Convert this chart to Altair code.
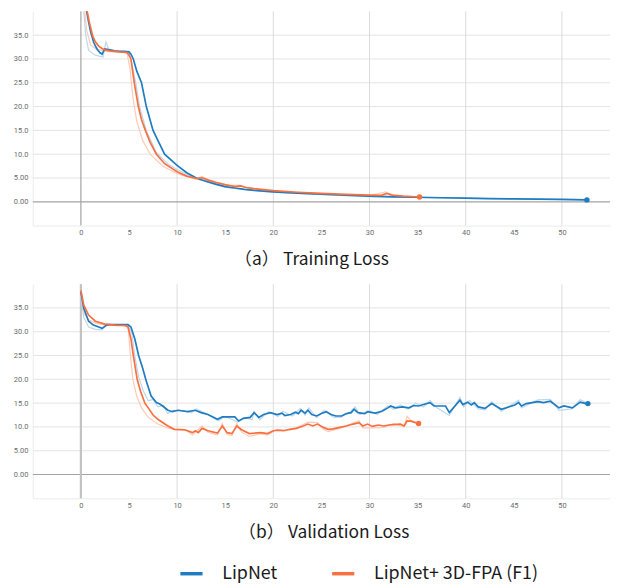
import altair as alt
import pandas as pd

BLUE = "#1f7cc1"
ORANGE = "#f8703f"
LBLUE = "#bcd8ee"
LORANGE = "#fdcab8"

SERIES = ["LipNet", "LipNet+ 3D-FPA (F1)"]

x_ticks = [0, 5, 10, 15, 20, 25, 30, 35, 40, 45, 50]
y_ticks = [0, 5, 10, 15, 20, 25, 30, 35]
x_grid = [10, 20, 30, 40, 50]
y_grid = [5, 10, 15, 20, 25, 30, 35]

# ---- Training loss (smoothed) ----
train_lip_x = [0.3, 0.55, 0.82, 1.0, 1.34, 1.7, 2.0, 2.2, 2.35, 2.5, 3.0, 3.5, 4.0, 4.5, 5.0, 5.2, 5.45, 5.8, 6.3, 6.8, 7.5, 8.1, 8.7, 10.0, 11.0, 12.0, 13.0, 14.0, 15.0, 16.0, 17.0, 18.0, 20.0, 22.5, 25.0, 27.5, 30.0, 32.5, 35.0, 37.5, 40.0, 42.5, 45.0, 47.5, 50.0, 52.6]
train_lip_y = [55, 40.5, 37.6, 35.8, 33.4, 32.0, 31.3, 31.0, 31.6, 32.1, 31.9, 31.7, 31.6, 31.6, 31.5, 31.0, 30.0, 27.5, 25.0, 20.0, 15.0, 12.5, 10.0, 7.66, 6.1, 5.0, 4.3, 3.7, 3.2, 2.9, 2.6, 2.4, 2.1, 1.8, 1.6, 1.4, 1.2, 1.05, 0.95, 0.85, 0.75, 0.68, 0.6, 0.55, 0.5, 0.4]
train_fpa_x = [0.3, 0.6, 0.9, 1.23, 1.5, 1.85, 2.2, 2.5, 3.0, 4.0, 4.7, 4.95, 5.2, 5.55, 5.97, 6.3, 6.7, 7.2, 7.85, 8.7, 10.0, 11.0, 12.0, 12.65, 13.2, 14.0, 15.0, 16.0, 16.6, 17.2, 18.0, 20.0, 22.5, 25.0, 27.5, 30.0, 31.2, 31.8, 32.4, 33.5, 35.2]
train_fpa_y = [55, 40.5, 37.5, 34.8, 33.6, 32.7, 32.2, 31.9, 31.7, 31.5, 31.4, 31.0, 30.0, 25.0, 20.0, 17.3, 15.0, 12.5, 10.0, 8.0, 6.3, 5.4, 4.9, 5.05, 4.6, 4.1, 3.6, 3.2, 3.35, 3.0, 2.75, 2.35, 2.0, 1.75, 1.55, 1.4, 1.35, 1.75, 1.4, 1.2, 1.0]

# ---- Training loss (raw, faint) ----
train_lip_raw_x = [0.3, 0.5, 0.8, 1.5, 2.3, 2.6, 2.9, 3.5, 4.5, 5.0, 5.3, 5.7, 6.1, 6.8, 7.8, 9.0, 10.0, 12.0, 15.0, 20.0, 25.0, 30.0, 35.0, 40.0, 45.0, 50.0, 52.6]
train_lip_raw_y = [40, 35, 31.8, 30.8, 30.4, 33.6, 32.0, 31.7, 31.6, 31.4, 29.0, 25.0, 20.0, 15.0, 10.5, 8.0, 6.8, 4.8, 3.0, 2.0, 1.5, 1.1, 0.9, 0.7, 0.6, 0.45, 0.4]
train_fpa_raw_x = [0.3, 0.6, 1.0, 1.5, 2.5, 4.8, 5.1, 5.4, 5.8, 6.4, 7.2, 8.5, 10.0, 12.0, 12.6, 13.0, 15.0, 16.5, 17.0, 20.0, 25.0, 30.0, 31.7, 32.2, 35.2]
train_fpa_raw_y = [42, 36, 33, 32.2, 31.6, 31.3, 28, 22, 17, 13, 10, 7.5, 5.9, 4.7, 5.3, 4.5, 3.4, 3.5, 3.0, 2.2, 1.6, 1.3, 2.1, 1.3, 1.0]

# ---- Validation loss (smoothed) ----
val_lip_x = [0, 0.3, 0.8, 1.3, 1.85, 2.2, 2.7, 3.0, 4.0, 4.9, 5.2, 5.6, 6.0, 6.4, 6.8, 7.3, 7.85, 8.2, 8.5, 9.05, 9.5, 10.1, 11.1, 11.9, 12.5, 13.2, 14.2, 14.7, 15.5, 16.0, 16.4, 16.9, 17.6, 18.0, 18.5, 19.0, 19.7, 20.4, 20.9, 21.2, 21.8, 22.3, 22.6, 22.9, 23.3, 23.6, 24.0, 24.5, 25.0, 25.5, 26.0, 26.5, 27.1, 27.6, 28.1, 28.4, 28.8, 29.5, 29.8, 30.3, 30.6, 31.3, 31.9, 32.2, 32.7, 33.4, 34.1, 34.6, 35.1, 35.6, 36.3, 36.7, 37.9, 38.3, 39.4, 39.7, 40.2, 40.6, 40.9, 41.3, 42.0, 42.7, 43.7, 45.1, 45.5, 45.8, 46.3, 47.5, 48.1, 48.8, 49.7, 50.2, 51.1, 51.9, 52.5, 52.7]
val_lip_y = [38.3, 34.9, 32.2, 31.4, 31.0, 30.7, 31.4, 31.5, 31.5, 31.5, 31.0, 28.5, 25.0, 22.5, 19.6, 16.5, 15.1, 14.8, 14.4, 13.5, 13.2, 13.5, 13.2, 13.5, 13.0, 12.6, 11.6, 12.1, 12.1, 12.1, 11.25, 11.8, 12.0, 13.0, 12.0, 12.6, 13.0, 12.6, 12.9, 12.4, 12.6, 13.1, 12.8, 13.5, 12.9, 13.5, 12.6, 12.3, 12.8, 13.2, 12.6, 12.3, 12.3, 12.8, 13.0, 13.7, 13.0, 12.8, 13.2, 13.0, 12.9, 13.3, 14.0, 14.4, 14.0, 14.2, 14.0, 14.5, 14.4, 14.7, 15.1, 14.4, 14.4, 13.0, 15.6, 14.7, 15.2, 14.6, 15.1, 14.2, 13.9, 14.9, 13.7, 14.6, 15.1, 14.4, 14.9, 15.3, 15.1, 15.4, 14.0, 14.4, 14.0, 15.2, 14.9, 14.9]
val_fpa_x = [0, 0.3, 0.8, 1.5, 2.5, 3.5, 4.6, 4.9, 5.2, 5.45, 5.85, 6.2, 6.65, 7.0, 7.5, 8.0, 8.8, 9.05, 9.7, 10.8, 11.6, 11.9, 12.2, 12.6, 13.2, 14.2, 14.7, 15.2, 15.7, 16.2, 16.7, 17.5, 18.7, 19.4, 20.0, 20.4, 21.1, 21.7, 22.4, 23.1, 23.6, 24.1, 24.6, 25.2, 25.7, 26.2, 26.9, 27.6, 28.3, 28.9, 29.3, 29.8, 30.3, 30.9, 31.5, 32.0, 32.5, 33.2, 33.6, 33.9, 34.3, 35.1]
val_fpa_y = [38.7, 35.6, 33.5, 32.2, 31.6, 31.4, 31.3, 31.0, 28.5, 25.0, 20.0, 17.5, 15.0, 14.0, 12.5, 11.6, 10.5, 10.2, 9.5, 9.4, 8.8, 9.2, 8.8, 9.7, 9.2, 8.7, 10.2, 8.8, 8.6, 10.2, 9.4, 8.6, 8.8, 8.6, 9.2, 9.3, 9.2, 9.5, 9.7, 10.2, 10.6, 10.2, 10.6, 9.9, 9.5, 9.6, 9.9, 10.2, 10.6, 10.9, 10.2, 10.6, 10.1, 10.4, 10.2, 10.4, 10.5, 10.6, 10.2, 11.25, 11.2, 10.7]

# ---- Validation loss (raw, faint) ----
val_lip_raw_x = [0, 0.3, 0.8, 1.5, 2.2, 2.7, 3.2, 4.9, 5.3, 5.6, 6.0, 6.5, 7.0, 7.5, 8.0, 8.6, 9.0, 9.6, 10.5, 11.5, 12.0, 13.0, 14.3, 15.0, 16.3, 17.0, 17.8, 18.0, 18.6, 19.5, 20.5, 21.0, 22.0, 22.8, 23.3, 23.7, 24.5, 25.3, 26.3, 27.0, 28.0, 28.5, 29.0, 30.0, 30.8, 31.9, 32.5, 33.2, 34.0, 34.8, 35.6, 36.3, 37.0, 38.3, 39.4, 39.8, 40.4, 41.3, 42.0, 42.7, 43.7, 45.5, 45.8, 47.5, 48.8, 49.7, 51.0, 51.9, 52.7]
val_lip_raw_y = [37.5, 33.0, 31.0, 30.5, 30.4, 31.8, 31.4, 31.4, 29.5, 25.0, 20.5, 17.5, 15.5, 15.8, 14.2, 14.5, 12.8, 13.5, 13.4, 13.0, 13.8, 12.8, 11.3, 12.2, 11.0, 12.0, 11.5, 13.3, 11.5, 13.2, 12.2, 13.3, 12.3, 13.9, 12.5, 14.0, 11.9, 13.5, 12.0, 12.0, 13.2, 14.2, 12.6, 13.4, 12.6, 14.4, 13.7, 14.6, 13.7, 15.0, 14.2, 15.6, 14.0, 12.4, 16.2, 14.2, 15.6, 13.8, 13.6, 15.3, 13.3, 15.6, 14.0, 15.7, 15.8, 13.5, 13.8, 15.7, 14.9]
val_fpa_raw_x = [0, 0.3, 0.8, 1.5, 2.5, 4.9, 5.1, 5.4, 5.8, 6.3, 7.0, 8.0, 9.0, 10.0, 11.0, 11.6, 12.6, 13.2, 14.2, 14.7, 15.2, 15.7, 16.2, 16.7, 17.5, 18.7, 19.4, 20.4, 21.7, 23.1, 23.6, 24.6, 25.2, 25.7, 26.9, 28.3, 28.9, 29.3, 30.3, 31.5, 32.5, 33.6, 33.9, 34.3, 35.1]
val_fpa_raw_y = [38.3, 34.0, 32.5, 31.8, 31.4, 31.2, 26.0, 20.0, 16.5, 14.0, 12.0, 10.6, 9.8, 9.4, 9.2, 8.3, 10.2, 8.9, 8.3, 10.7, 8.4, 8.2, 10.7, 8.9, 8.0, 8.6, 8.3, 9.5, 9.3, 10.5, 11.0, 10.9, 9.5, 9.0, 9.7, 10.8, 11.3, 9.8, 9.8, 9.9, 10.7, 10.0, 12.2, 11.4, 10.7]


def frame(xs, ys, name):
    return pd.DataFrame({"x": xs, "y": ys, "series": name})


X_SCALE = alt.Scale(domain=[-5, 55], nice=False, zero=False)
Y_SCALE = alt.Scale(domain=[-5, 40], nice=False, zero=False)

LEGEND = alt.Legend(
    orient="none", legendX=147, legendY=554, direction="horizontal", title=None,
    symbolType="stroke", symbolStrokeWidth=3.5, symbolSize=500,
    labelFontSize=18, labelFont="Noto Sans CJK SC", labelColor="#1a1a1a",
    labelOffset=18, columnPadding=47, labelLimit=400,
)
COLOR = alt.Color("series:N", scale=alt.Scale(domain=SERIES, range=[BLUE, ORANGE]), legend=LEGEND)

Y_LABEL = "datum.value < 10 ? format(datum.value, '.2f') : format(datum.value, '.1f')"


def panel(title, title_x, lip, fpa, lip_raw, fpa_raw, zero_x_width, zero_x_color):
    xaxis = alt.Axis(
        values=x_ticks, format="d", grid=False, ticks=False, domain=True, domainColor="#ebebeb",
        labelFontSize=7.5, labelColor="#6b6b6b", labelFont="Roboto", labelPadding=3,
        title=title, titleFont="Noto Sans CJK SC", titleFontSize=17.5, titleFontWeight="normal",
        titleColor="#1a1a1a", titlePadding=15, titleX=title_x, titleAlign="left", titleAnchor="start",
    )
    yaxis = alt.Axis(
        values=y_ticks, labelExpr=Y_LABEL, grid=False, ticks=False, domain=True, domainColor="#ebebeb",
        labelFontSize=7.5, labelColor="#6b6b6b", labelFont="Roboto", labelPadding=5,
        minExtent=20, maxExtent=20, title=None,
    )
    X = lambda f: alt.X(f, type="quantitative", scale=X_SCALE, axis=xaxis)
    Y = lambda f: alt.Y(f, type="quantitative", scale=Y_SCALE, axis=yaxis)

    ygrid = alt.Chart(pd.DataFrame({"v": y_grid})).mark_rule(color="#e4e4e4", strokeWidth=1).encode(y=Y("v"))
    xgrid = alt.Chart(pd.DataFrame({"v": x_grid})).mark_rule(color="#dcdcdc", strokeWidth=1).encode(x=X("v"))
    zy = alt.Chart(pd.DataFrame({"v": [0]})).mark_rule(color="#a3a3a3", strokeWidth=1.2).encode(y=Y("v"))
    zx = alt.Chart(pd.DataFrame({"v": [0]})).mark_rule(color=zero_x_color, strokeWidth=zero_x_width).encode(x=X("v"))

    raw1 = alt.Chart(lip_raw).mark_line(color=LBLUE, strokeWidth=1.2, clip=True).encode(x=X("x"), y=Y("y"), order="x:Q")
    raw2 = alt.Chart(fpa_raw).mark_line(color=LORANGE, strokeWidth=1.2, clip=True).encode(x=X("x"), y=Y("y"), order="x:Q")
    smooth = pd.concat([lip, fpa])
    lines = alt.Chart(smooth).mark_line(strokeWidth=1.7, clip=True).encode(
        x=X("x"), y=Y("y"), color=COLOR, order="x:Q")
    ends = pd.concat([lip.tail(1), fpa.tail(1)])
    dots = alt.Chart(ends).mark_point(filled=True, size=30, opacity=1).encode(x=X("x"), y=Y("y"), color=COLOR)

    return alt.layer(ygrid, xgrid, zy, zx, raw1, raw2, lines, dots).properties(width=582, height=216)


top = panel("（a） Training Loss", 203,
            frame(train_lip_x, train_lip_y, SERIES[0]), frame(train_fpa_x, train_fpa_y, SERIES[1]),
            frame(train_lip_raw_x, train_lip_raw_y, SERIES[0]), frame(train_fpa_raw_x, train_fpa_raw_y, SERIES[1]),
            1.2, "#a3a3a3")
bottom = panel("（b） Validation Loss", 207,
               frame(val_lip_x, val_lip_y, SERIES[0]), frame(val_fpa_x, val_fpa_y, SERIES[1]),
               frame(val_lip_raw_x, val_lip_raw_y, SERIES[0]), frame(val_fpa_raw_x, val_fpa_raw_y, SERIES[1]),
               2.2, "#c2c2c2")

chart = alt.vconcat(top, bottom, spacing=14).properties(
    padding={"left": 5, "top": 0, "right": 0, "bottom": 0}
).configure_view(stroke=None)

chart.save("out.html", embed_options={"renderer": "svg", "actions": False})
